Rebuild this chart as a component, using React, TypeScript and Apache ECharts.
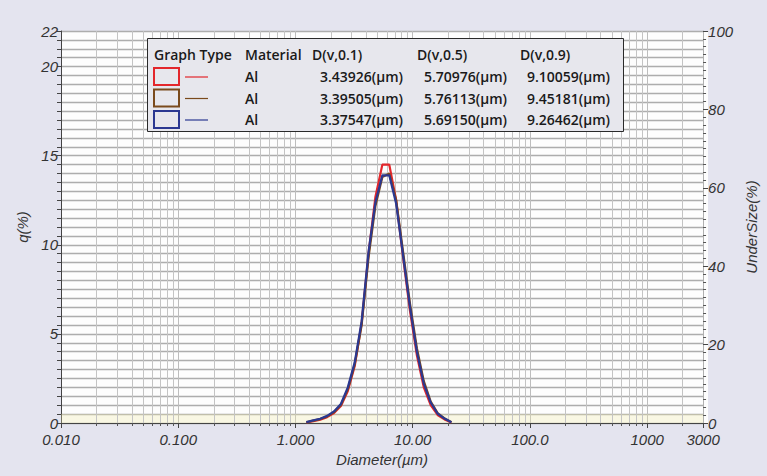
import React, { useEffect, useRef } from 'react';
import * as echarts from 'echarts';

// Particle diameters (µm) of the plotted points
const diameters = [1.239, 1.419, 1.625, 1.862, 2.132, 2.442, 2.797, 3.203, 3.669, 4.202, 4.813, 5.512, 6.313, 7.231, 8.282, 9.485, 10.86, 12.44, 14.25, 16.32, 18.69, 21.41];
// q(%) values for the three measurements
const qRed = [0.03, 0.10, 0.19, 0.33, 0.56, 0.95, 1.8, 3.2, 5.6, 9.5, 12.7, 14.5, 14.5, 12.5, 9.3, 6.3, 3.8, 2.0, 1.0, 0.45, 0.2, 0.03];
const qBrown = [0.04, 0.13, 0.22, 0.37, 0.61, 1.02, 1.9, 3.3, 5.5, 9.3, 12.2, 13.8, 14.0, 12.5, 9.6, 6.7, 4.2, 2.35, 1.2, 0.56, 0.26, 0.05];
const qBlue = [0.05, 0.15, 0.24, 0.40, 0.65, 1.07, 2.0, 3.4, 5.7, 9.6, 12.4, 13.9, 13.9, 12.3, 9.4, 6.5, 4.0, 2.2, 1.15, 0.53, 0.25, 0.04];

// x tick labels
const xTickValues = [0.01, 0.1, 1, 10, 100, 1000, 3000];
const xTickLabels = ['0.010', '0.100', '1.000', '10.00', '100.0', '1000', '3000'];

// Legend table
const legendHeaders = ['Graph Type', 'Material', 'D(v,0.1)', 'D(v,0.5)', 'D(v,0.9)'];
const seriesColors = ['#e3262b', '#7a4a1c', '#2b3891'];
const materials = ['Al', 'Al', 'Al'];
const d10 = ['3.43926(µm)', '3.39505(µm)', '3.37547(µm)'];
const d50 = ['5.70976(µm)', '5.76113(µm)', '5.69150(µm)'];
const d90 = ['9.10059(µm)', '9.45181(µm)', '9.26462(µm)'];

const AXIS_FONT = '"Liberation Sans", Arial, sans-serif';
const LEG_FONT = '"Open Sans", Lato, sans-serif';

export default function App() {
  const ref = useRef<HTMLDivElement>(null);
  useEffect(() => {
    document.body.style.margin = '0';
    if (!ref.current) return;
    const chart = echarts.init(ref.current, null, { renderer: 'svg' });

    const minorX: number[] = [];
    for (let e = -2; e <= 3; e++) {
      for (let k = 2; k <= 9; k++) {
        const v = k * Math.pow(10, e);
        if (v < 3000) minorX.push(Number(v.toPrecision(6)));
      }
    }

    const labelStyle = { fontStyle: 'italic', fontSize: 15, color: '#333', fontFamily: AXIS_FONT };

    const lineSeries = (name: string, q: number[], color: string, z: number) => ({
      name,
      type: 'line',
      data: diameters.map((d, i) => [d, q[i]]),
      showSymbol: false,
      symbol: 'none',
      lineStyle: { color, width: 2.2 },
      itemStyle: { color },
      z,
      silent: true,
    });

    const colX = [154, 245, 312, 417, 520];
    const valX = [320, 424, 527];
    const headerY = 54;
    const rowY = [76.5, 98, 119.5];
    const legText = { fontSize: 14, fontFamily: LEG_FONT, fontWeight: 600, fill: '#1a1a1a', verticalAlign: 'middle', align: 'left' };

    const graphics: any[] = [
      { type: 'rect', z: -10, silent: true, shape: { x: 61, y: 31, width: 647, height: 392 }, style: { fill: '#fdfdfd' } },
      { type: 'rect', shape: { x: 147.5, y: 38.5, width: 476, height: 93 }, style: { fill: '#e7e7ed', stroke: '#2a2a2a', lineWidth: 1 }, z: 100 },
    ];
    legendHeaders.forEach((h, i) => {
      graphics.push({ type: 'text', x: colX[i], y: headerY, style: { ...legText, text: h }, z: 101 });
    });
    seriesColors.forEach((c, i) => {
      const y = rowY[i];
      graphics.push({ type: 'rect', shape: { x: 154, y: y - 8.5, width: 25, height: 17 }, style: { fill: 'none', stroke: c, lineWidth: 2 }, z: 101 });
      graphics.push({ type: 'line', shape: { x1: 185, y1: y + 0.5, x2: 208, y2: y + 0.5 }, style: { stroke: c, lineWidth: 1.2 }, z: 101 });
      graphics.push({ type: 'text', x: colX[1], y, style: { ...legText, text: materials[i] }, z: 101 });
      [d10, d50, d90].forEach((arr, j) => {
        graphics.push({ type: 'text', x: valX[j], y, style: { ...legText, text: arr[i] }, z: 101 });
      });
    });

    const option: any = {
      animation: false,
      backgroundColor: '#e4e4ef',
      grid: { left: 61, right: 59, top: 31, bottom: 53, show: false, containLabel: false },
      xAxis: {
        type: 'log',
        logBase: 10,
        min: 0.01,
        max: 3000,
        name: 'Diameter(µm)',
        nameLocation: 'middle',
        nameGap: 28,
        nameTextStyle: labelStyle,
        axisLine: { show: true, onZero: false, lineStyle: { color: '#444' } },
        axisTick: { show: true, length: 5, lineStyle: { color: '#444' } },
        axisLabel: {
          ...labelStyle,
          margin: 9,
          showMinLabel: true,
          showMaxLabel: true,
          hideOverlap: false,
          formatter: (v: number) => {
            const i = xTickValues.findIndex((t) => Math.abs(Math.log10(t) - Math.log10(v)) < 1e-6);
            return i >= 0 ? xTickLabels[i] : '';
          },
        },
        splitLine: { show: true, lineStyle: { color: '#bdbdbd' } },
      },
      yAxis: [
        {
          type: 'value',
          min: 0,
          max: 22,
          interval: 0.5,
          position: 'left',
          name: 'q(%)',
          nameLocation: 'middle',
          nameGap: 11,
          nameTextStyle: labelStyle,
          axisLine: { show: true, lineStyle: { color: '#444' } },
          axisTick: { show: true, interval: 0, length: 4, lineStyle: { color: '#444' } },
          axisLabel: {
            ...labelStyle,
            interval: 0,
            margin: 3,
            formatter: (v: number) => (Math.abs(v % 5) < 1e-9 || Math.abs(v - 22) < 1e-9 ? String(v) : ''),
          },
          splitLine: { show: true, interval: 0, lineStyle: { color: '#adadad', width: 1.3, type: 'solid' } },
        },
        {
          type: 'value',
          min: 0,
          max: 100,
          interval: 20,
          position: 'right',
          name: 'UnderSize(%)',
          nameLocation: 'middle',
          nameGap: 9,
          nameTextStyle: labelStyle,
          axisLine: { show: true, lineStyle: { color: '#b0b0b0' } },
          axisTick: { show: true, length: 5, lineStyle: { color: '#444' } },
          minorTick: { show: true, splitNumber: 10, length: 3, lineStyle: { color: '#555' } },
          axisLabel: { ...labelStyle, margin: 5 },
          splitLine: { show: false },
        },
      ],
      series: [
        {
          type: 'custom',
          silent: true,
          clip: false,
          z: 1,
          data: minorX.map((v) => [v, 0]),
          encode: { x: 0, y: 1 },
          renderItem: (params: any, api: any) => {
            const v = api.value(0);
            const b = api.coord([v, 0]);
            const t = api.coord([v, 22]);
            const x = Math.round(b[0]) + 0.5;
            return {
              type: 'group',
              children: [
                { type: 'line', shape: { x1: x, y1: t[1], x2: x, y2: b[1] }, style: { stroke: '#c4c4c4', lineWidth: 1 } },
                { type: 'line', shape: { x1: x, y1: b[1], x2: x, y2: b[1] + 3 }, style: { stroke: '#555', lineWidth: 1 } },
              ],
            };
          },
        },
        {
          ...lineSeries('red', qRed, seriesColors[0], 3),
          markArea: {
            silent: true,
            itemStyle: { color: 'rgba(240,232,160,0.28)' },
            data: [[{ yAxis: 0 }, { yAxis: 0.5 }]],
          },
        },
        lineSeries('brown', qBrown, seriesColors[1], 4),
        lineSeries('blue', qBlue, seriesColors[2], 5),
      ],
      graphic: graphics,
    };
    chart.setOption(option);
    return () => chart.dispose();
  }, []);
  return <div ref={ref} style={{ width: 767, height: 476 }} />;
}
